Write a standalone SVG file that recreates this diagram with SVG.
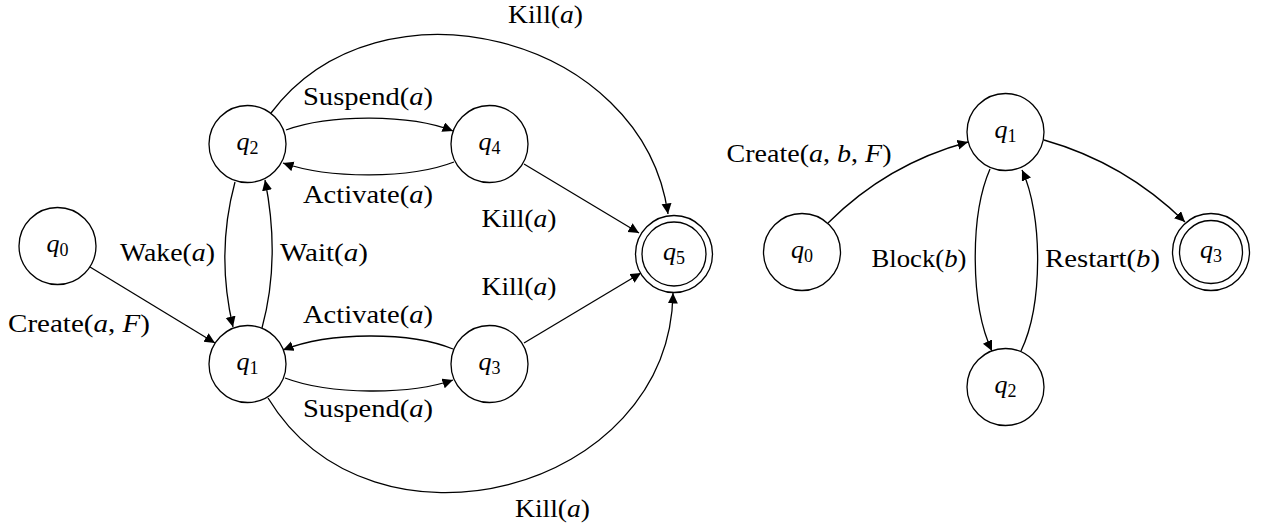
<svg xmlns="http://www.w3.org/2000/svg" width="1261" height="528" viewBox="0 0 1261 528">
<style>
.n{fill:#fff;stroke:#000;stroke-width:1.3}
.e{fill:none;stroke:#000;stroke-width:1.3;marker-end:url(#ah)}
text{font-family:"Liberation Serif","Times New Roman",serif;font-size:26px;fill:#000}
.lb{text-anchor:middle}
.i{font-style:italic}
.s{font-size:18px}
</style>
<defs>
<marker id="ah" markerUnits="userSpaceOnUse" markerWidth="12" markerHeight="12" viewBox="0 0 12 12" refX="10.5" refY="5" orient="auto">
<path d="M0,0 L10.5,5 L0,10 z" fill="#000"/>
</marker>
</defs>
<rect width="1261" height="528" fill="#fff"/>
<g id="connectors">
<path class="e" d="M90,267 L215,343"/>
<path class="e" d="M235,182 C222,230 222,280 233,327"/>
<path class="e" d="M262,328 C275,280 275,230 265,180"/>
<path class="e" d="M286,130 C330,114 410,114 453,131"/>
<path class="e" d="M454,162 C410,179 330,179 283,163"/>
<path class="e" d="M453,349 C410,331.5 330,331.5 283,350"/>
<path class="e" d="M285,378 C330,395 410,395 453,380"/>
<path class="e" d="M524,164 L639,233"/>
<path class="e" d="M524,343 L641,273"/>
<path class="e" d="M271,113 C379,-31 643,35 668,214"/>
<path class="e" d="M268,398 C372,569 670,493 673,293"/>
<path class="e" d="M828,223 Q887,164 968,142"/>
<path class="e" d="M990,169 C970,215 970,305 992,351"/>
<path class="e" d="M1021,351 C1043,305 1043,215 1022,170"/>
<path class="e" d="M1044,140 Q1125,163 1185,222"/>
<text class="lb" x="79" y="332" textLength="142" lengthAdjust="spacingAndGlyphs">Create(<tspan class="i">a</tspan>, <tspan class="i">F</tspan>)</text>
<text class="lb" x="167.5" y="261" textLength="95" lengthAdjust="spacingAndGlyphs">Wake(<tspan class="i">a</tspan>)</text>
<text class="lb" x="324" y="261" textLength="88" lengthAdjust="spacingAndGlyphs">Wait(<tspan class="i">a</tspan>)</text>
<text class="lb" x="368" y="105" textLength="130" lengthAdjust="spacingAndGlyphs">Suspend(<tspan class="i">a</tspan>)</text>
<text class="lb" x="368" y="203" textLength="130" lengthAdjust="spacingAndGlyphs">Activate(<tspan class="i">a</tspan>)</text>
<text class="lb" x="368" y="323" textLength="130" lengthAdjust="spacingAndGlyphs">Activate(<tspan class="i">a</tspan>)</text>
<text class="lb" x="368" y="417" textLength="130" lengthAdjust="spacingAndGlyphs">Suspend(<tspan class="i">a</tspan>)</text>
<text class="lb" x="545.5" y="23" textLength="75" lengthAdjust="spacingAndGlyphs">Kill(<tspan class="i">a</tspan>)</text>
<text class="lb" x="519" y="227" textLength="75" lengthAdjust="spacingAndGlyphs">Kill(<tspan class="i">a</tspan>)</text>
<text class="lb" x="519" y="295" textLength="75" lengthAdjust="spacingAndGlyphs">Kill(<tspan class="i">a</tspan>)</text>
<text class="lb" x="552.5" y="517" textLength="75" lengthAdjust="spacingAndGlyphs">Kill(<tspan class="i">a</tspan>)</text>
<text class="lb" x="809" y="162" textLength="165" lengthAdjust="spacingAndGlyphs">Create(<tspan class="i">a</tspan>, <tspan class="i">b</tspan>, <tspan class="i">F</tspan>)</text>
<text class="lb" x="919" y="267" textLength="95" lengthAdjust="spacingAndGlyphs">Block(<tspan class="i">b</tspan>)</text>
<text class="lb" x="1102.5" y="267" textLength="115" lengthAdjust="spacingAndGlyphs">Restart(<tspan class="i">b</tspan>)</text>
</g>
<g id="L-q0"><circle class="n" cx="57.5" cy="246" r="38.5"/><text class="lb" x="57.5" y="252"><tspan class="i">q</tspan><tspan class="s" dy="4">0</tspan></text></g>
<g id="L-q1"><circle class="n" cx="247.5" cy="364" r="38.5"/><text class="lb" x="247.5" y="370"><tspan class="i">q</tspan><tspan class="s" dy="4">1</tspan></text></g>
<g id="L-q2"><circle class="n" cx="247.5" cy="144" r="38.5"/><text class="lb" x="247.5" y="150"><tspan class="i">q</tspan><tspan class="s" dy="4">2</tspan></text></g>
<g id="L-q3"><circle class="n" cx="489.5" cy="364" r="38.5"/><text class="lb" x="489.5" y="370"><tspan class="i">q</tspan><tspan class="s" dy="4">3</tspan></text></g>
<g id="L-q4"><circle class="n" cx="489.5" cy="144" r="38.5"/><text class="lb" x="489.5" y="150"><tspan class="i">q</tspan><tspan class="s" dy="4">4</tspan></text></g>
<g id="L-q5"><circle class="n" cx="674" cy="254" r="38.5"/><circle class="n" cx="674" cy="254" r="32"/><text class="lb" x="674" y="260"><tspan class="i">q</tspan><tspan class="s" dy="4">5</tspan></text></g>
<g id="R-q0"><circle class="n" cx="802" cy="252" r="38.5"/><text class="lb" x="802" y="258"><tspan class="i">q</tspan><tspan class="s" dy="4">0</tspan></text></g>
<g id="R-q1"><circle class="n" cx="1005.5" cy="132" r="38.5"/><text class="lb" x="1005.5" y="138"><tspan class="i">q</tspan><tspan class="s" dy="4">1</tspan></text></g>
<g id="R-q2"><circle class="n" cx="1005.5" cy="387" r="38.5"/><text class="lb" x="1005.5" y="393"><tspan class="i">q</tspan><tspan class="s" dy="4">2</tspan></text></g>
<g id="R-q3"><circle class="n" cx="1211" cy="252" r="38.5"/><circle class="n" cx="1211" cy="252" r="31.5"/><text class="lb" x="1211" y="258"><tspan class="i">q</tspan><tspan class="s" dy="4">3</tspan></text></g>
</svg>
